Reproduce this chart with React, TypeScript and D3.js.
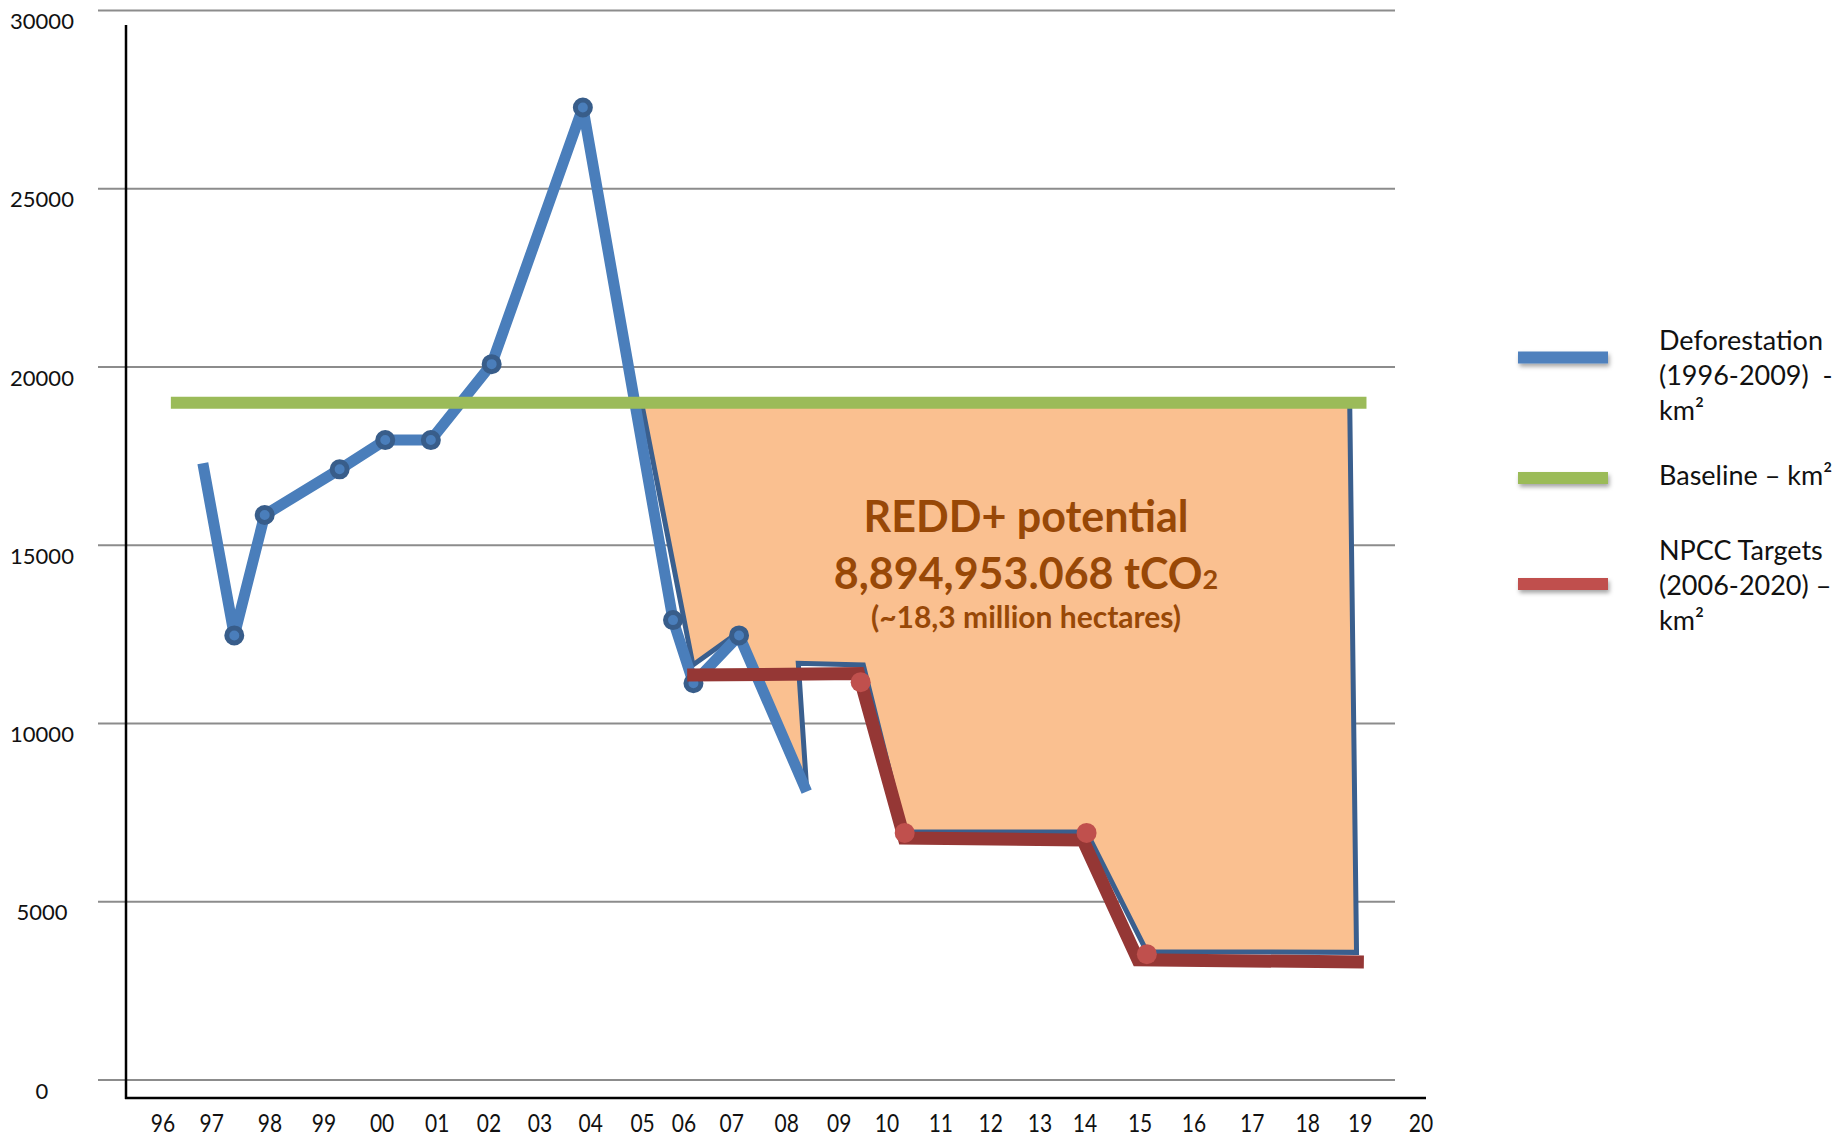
import React from "react";
import * as d3 from "d3";

// ---- data ----
const yTickValues = [0, 5000, 10000, 15000, 20000, 25000, 30000];
const xTickLabels = ["96","97","98","99","00","01","02","03","04","05","06","07","08","09","10","11","12","13","14","15","16","17","18","19","20"];
const xTickYears = [1996.0,1996.93,1998.04,1999.07,2000.18,2001.23,2002.22,2003.19,2004.16,2005.15,2005.94,2006.85,2007.9,2008.9,2009.81,2010.84,2011.79,2012.73,2013.59,2014.64,2015.67,2016.78,2017.84,2018.84,2020.0];

const deforestationYears = [1996.76,1997.36,1997.94,1999.37,2000.24,2001.11,2002.27,2004.01,2005.73,2006.12,2006.99,2008.28];
const deforestationValues = [17300,12470,15850,17130,17950,17950,20080,27280,12900,11130,12470,8090];
const deforestationMarked = [false,true,true,true,true,true,true,true,true,true,true,false];

const baselineYears = [1996.15, 2018.96];
const baselineValues = [19000, 19000];

const npccYears = [2006.0,2009.27,2010.14,2013.55,2014.6,2018.91];
const npccValues = [11360,11400,6790,6730,3370,3310];
const npccMarkerYears = [2009.31,2010.15,2013.62,2014.77];
const npccMarkerValues = [11160,6930,6930,3530];

const reddYears = [2005.13,2006.11,2006.99,2008.28,2008.12,2009.36,2010.15,2013.62,2014.77,2018.77,2018.64];
const reddValues = [19000,11640,12570,8160,11690,11640,6960,6960,3600,3580,19000];

const legendLabels = [
  ["Deforestation", "(1996-2009)\u00a0 -", "km²"],
  ["Baseline – km²"],
  ["NPCC Targets", "(2006-2020) –", "km²"],
];
const legendColors = ["#4f81bd", "#9bbb59", "#c0504d"];

// ---- chart ----
const W = 1835, H = 1137;
const x = d3.scaleLinear().domain([1996, 2020]).range([163, 1421]);
const y = d3.scaleLinear().domain([0, 30000]).range([1080, 10.5]);

type P = [number, number];
const zip = (xs: number[], ys: number[]): P[] => xs.map((v, i) => [v, ys[i]]);
const line = d3.line<P>().x(d => x(d[0])).y(d => y(d[1]));

const FONT = "Lato, 'Open Sans', sans-serif";

export default function App() {
  const defo = zip(deforestationYears, deforestationValues);
  const npcc = zip(npccYears, npccValues);
  const redd = zip(reddYears, reddValues);
  const base = zip(baselineYears, baselineValues);
  const legendY = [357.5, 478, 584];
  const legendTextY = [[350, 385, 420], [485], [560, 595, 630]];
  return (
    <div style={{ position: "absolute", left: 0, top: 0 }}>
      <svg width={W} height={H} style={{ display: "block", background: "#fff" }}>
        <defs>
          <filter id="sh" x="-10%" y="-60%" width="130%" height="260%">
            <feDropShadow dx="1.5" dy="3" stdDeviation="2" floodColor="#000" floodOpacity="0.35" />
          </filter>
        </defs>
        {/* gridlines */}
        {yTickValues.map(v => (
          <line key={"g" + v} x1={98} x2={1395} y1={y(v)} y2={y(v)} stroke="#8c8c8c" strokeWidth={2} />
        ))}
        {/* y labels */}
        {yTickValues.map(v => (
          <text key={"yl" + v} x={42} y={y(v) + 10} textAnchor="middle" dominantBaseline="central"
            fontFamily={FONT} fontSize={22} fill="#111">{v}</text>
        ))}
        {/* REDD+ area */}
        <path d={line(redd) + "Z"} fill="#fac090" stroke="#3a5f8e" strokeWidth={5} strokeLinejoin="miter" />
        {/* deforestation line */}
        <path d={line(defo) || ""} fill="none" stroke="#4a7ebb" strokeWidth={11} strokeLinejoin="round" strokeLinecap="butt" />
        {defo.map((d, i) => deforestationMarked[i] ? (
          <circle key={"dm" + i} cx={x(d[0])} cy={y(d[1])} r={7.5} fill="#4a7ebb" stroke="#385d8a" strokeWidth={5} />
        ) : null)}
        {/* baseline */}
        <path d={line(base) || ""} fill="none" stroke="#9bbb59" strokeWidth={12} />
        {/* NPCC */}
        <path d={line(npcc) || ""} fill="none" stroke="#953735" strokeWidth={13} strokeLinejoin="miter" />
        {npccMarkerYears.map((yr, i) => (
          <circle key={"nm" + i} cx={x(yr)} cy={y(npccMarkerValues[i])} r={10} fill="#c0504d" />
        ))}
        {/* axes */}
        <line x1={126} x2={126} y1={25} y2={1099} stroke="#000" strokeWidth={2.5} />
        <line x1={125} x2={1426} y1={1098} y2={1098} stroke="#000" strokeWidth={2.5} />
        {xTickLabels.map((lab, i) => (
          <text key={"xl" + i} transform={`translate(${x(xTickYears[i])},1123) scale(1,1.15)`}
            textAnchor="middle" dominantBaseline="central" fontFamily={FONT} fontSize={21} fill="#111">{lab}</text>
        ))}
        {/* annotation */}
        <g fontFamily={FONT} fontWeight={700} fill="#984807" textAnchor="middle">
          <text x={1026} y={532} fontSize={43}>REDD+ potential</text>
          <text x={1026} y={589} fontSize={43}>8,894,953.068 tCO<tspan fontSize={27}>2</tspan></text>
          <text x={1026} y={628} fontSize={30}>(~18,3 million hectares)</text>
        </g>
        {/* legend */}
        {legendLabels.map((lines, i) => (
          <g key={"lg" + i}>
            <rect x={1518} y={legendY[i] - 6} width={90} height={12} fill={legendColors[i]} filter="url(#sh)" />
            {lines.map((t, j) => (
              <text key={j} x={1659} y={legendTextY[i][j]} fontFamily={FONT} fontSize={27} fill="#111">{t}</text>
            ))}
          </g>
        ))}
      </svg>
    </div>
  );
}
